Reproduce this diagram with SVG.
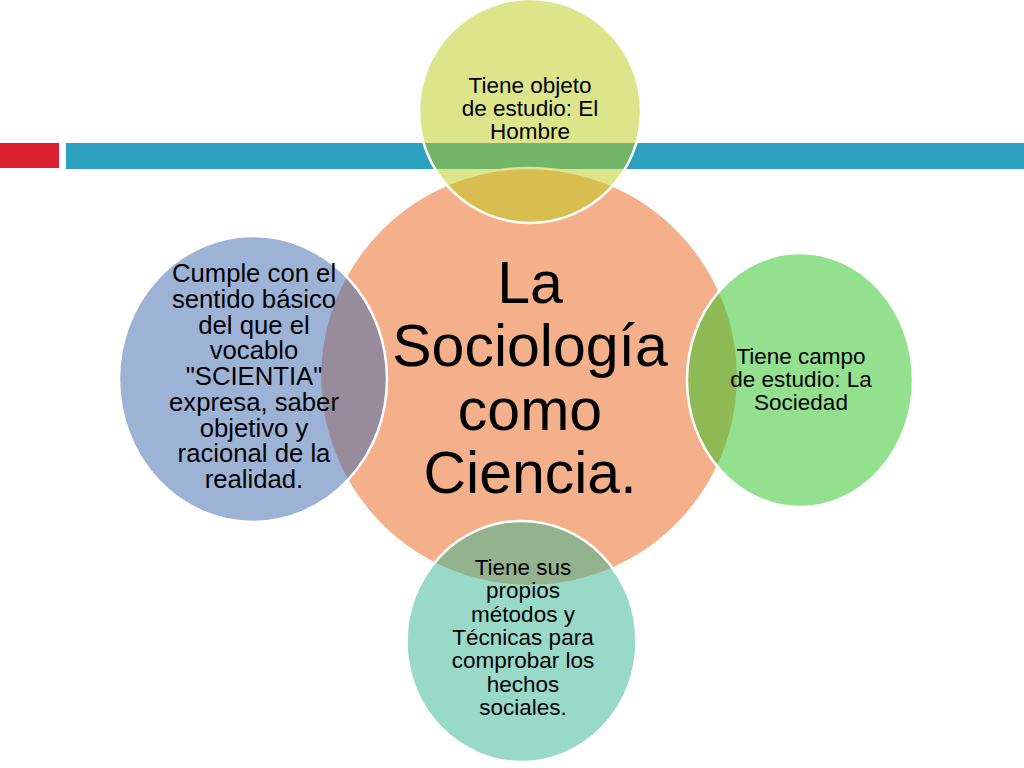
<svg xmlns="http://www.w3.org/2000/svg" width="1024" height="768" viewBox="0 0 1024 768">
<style>
.c{stroke:#ffffff;stroke-width:2.5}
.t{font-family:"Liberation Sans",Arial,sans-serif;fill:#000;text-anchor:middle}
.s{font-size:22.5px}
.m{font-size:25.7px}
.b{font-size:59px}
</style>
<rect width="1024" height="768" fill="#ffffff"/>
<rect x="0" y="143" width="59" height="25" fill="#DC2230"/>
<rect x="66" y="143" width="958" height="26" fill="#2BA0BF"/>
<g id="center">
<circle class="c" cx="529" cy="377" r="209" fill="#F4B08A"/>
</g>
<g id="top">
<ellipse class="c" cx="530" cy="111" rx="111" ry="112" fill="#BBCB15" fill-opacity="0.5"/>
</g>
<g id="right">
<ellipse class="c" cx="800" cy="380" rx="113" ry="127" fill="#27C11D" fill-opacity="0.5"/>
</g>
<g id="bottom">
<ellipse class="c" cx="521.5" cy="641.5" rx="115" ry="120.5" fill="#33B391" fill-opacity="0.5"/>
</g>
<g id="left">
<ellipse class="c" cx="253" cy="379" rx="134" ry="143" fill="#3B67AD" fill-opacity="0.5"/>
</g>
<g id="connectors"></g>
<g id="center-text">
<text class="t b" x="530" y="303">La</text>
<text class="t b" x="530" y="366">Sociología</text>
<text class="t b" x="530" y="429.5">como</text>
<text class="t b" x="530" y="493">Ciencia.</text>
</g>
<g id="top-text">
<text class="t s" x="530" y="93">Tiene objeto</text>
<text class="t s" x="530" y="116">de estudio: El</text>
<text class="t s" x="530" y="139">Hombre</text>
</g>
<g id="right-text">
<text class="t s" x="801" y="364">Tiene campo</text>
<text class="t s" x="801" y="387">de estudio: La</text>
<text class="t s" x="801" y="410">Sociedad</text>
</g>
<g id="bottom-text">
<text class="t s" x="523" y="575">Tiene sus</text>
<text class="t s" x="523" y="598.3">propios</text>
<text class="t s" x="523" y="621.7">métodos y</text>
<text class="t s" x="523" y="645">Técnicas para</text>
<text class="t s" x="523" y="668.3">comprobar los</text>
<text class="t s" x="523" y="691.7">hechos</text>
<text class="t s" x="523" y="715">sociales.</text>
</g>
<g id="left-text">
<text class="t m" x="254" y="282">Cumple con el</text>
<text class="t m" x="254" y="307.8">sentido básico</text>
<text class="t m" x="254" y="333.5">del que el</text>
<text class="t m" x="254" y="359.3">vocablo</text>
<text class="t m" x="254" y="385">"SCIENTIA"</text>
<text class="t m" x="254" y="410.8">expresa, saber</text>
<text class="t m" x="254" y="436.5">objetivo y</text>
<text class="t m" x="254" y="462.3">racional de la</text>
<text class="t m" x="254" y="488">realidad.</text>
</g>
</svg>
